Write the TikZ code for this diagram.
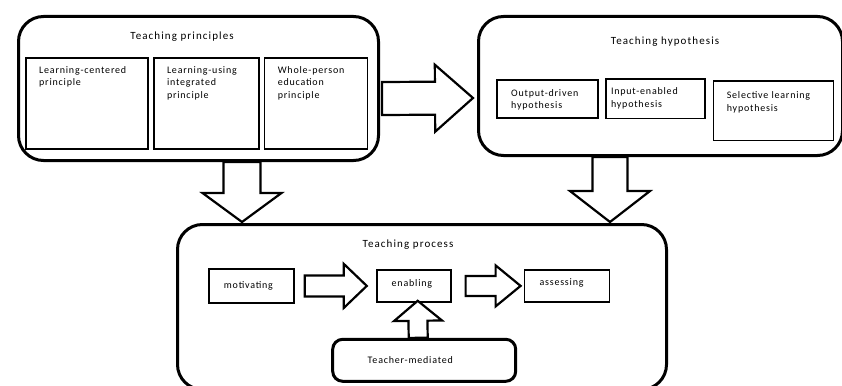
\documentclass[tikz,border=0pt]{standalone}
\usepackage{fontspec}
\setmainfont{Carlito}
\newfontfamily\boxfont[LetterSpace=8]{Carlito}
\newfontfamily\headfont[LetterSpace=10]{Carlito}
\usetikzlibrary{positioning,calc}
\tikzset{
  outer/.style={draw, line width=3pt, rounded corners=25pt, anchor=north west, inner sep=0pt},
  inbox/.style={draw, line width=1.8pt, inner sep=0pt, anchor=north west},
  head/.style={font=\headfont\fontsize{11}{13}\selectfont, inner sep=0pt},
  tag/.style={font=\boxfont\fontsize{10}{12.5}\selectfont, align=left, anchor=north west, inner sep=0pt},
  stepbox/.style={draw, line width=1.8pt, font=\boxfont\fontsize{10}{12.5}\selectfont, align=left,
    inner xsep=15pt, inner ysep=0pt, text width=#1},
  fat/.style n args={3}{fill=white, line width=2.2pt, line join=miter,
    to path={let \p1=(\tikztostart), \p2=(\tikztotarget), \p3=($(\p2)!#3pt!(\p1)$) in
      ($(\p1)!#1pt!90:(\p2)$) -- ($(\p3)!#1pt!-90:(\p1)$) -- ($(\p3)!#2pt!-90:(\p1)$) -- (\p2)
      -- ($(\p3)!#2pt!90:(\p1)$) -- ($(\p3)!#1pt!90:(\p1)$) -- ($(\p1)!#1pt!-90:(\p2)$) -- cycle}}
}
\begin{document}
\begin{tikzpicture}[x=1pt, y=1pt]
  \useasboundingbox (0,0) rectangle (842,-385);
  \node (pr) [outer, minimum width=360, minimum height=144] at (17,-15) {};
  \node (hy) [outer, minimum width=364, minimum height=139] at (477,-15) {};
  \node (pc) [outer, minimum width=489, minimum height=165] at (176,-223) {};
  \node (pr-t) [head] at (182,-36.5) {Teaching principles};
  \node (hy-t) [head] at (665,-41.5) {Teaching hypothesis};
  \node (pc-t) [head] at (408,-244.5) {Teaching process};

  \node (lc) [inbox, minimum width=122, minimum height=91] at (25,-57) {};
  \node (lu) [inbox, minimum width=105, minimum height=91, right=4pt of lc] {};
  \node (wp) [inbox, minimum width=103, minimum height=91, right=4pt of lu] {};
  \node (lc-t) [tag] at ($(lc.north west)+(14,-9)$) {Learning-centered\\principle};
  \node (lu-t) [tag] at ($(lu.north west)+(14,-9)$) {Learning-using\\integrated\\principle};
  \node (wp-t) [tag] at ($(wp.north west)+(14,-9)$) {Whole-person\\education\\principle};

  \node (od) [inbox, minimum width=101, minimum height=38] at (496,-79) {};
  \node (ie) [inbox, minimum width=99, minimum height=39, right=6pt of od] {};
  \node (sl) [inbox, minimum width=120, minimum height=59, right=7pt of ie.north east, anchor=north west, yshift=-2pt] {};
  \node (od-t) [tag] at ($(od.north west)+(15,-10)$) {Output-driven\\hypothesis};
  \node (ie-t) [tag] at ($(ie.north west)+(6,-9)$) {Input-enabled\\hypothesis};
  \node (sl-t) [tag] at ($(sl.north west)+(14,-11)$) {Selective learning\\hypothesis};

  \node (mot) [stepbox=55pt, minimum height=34, anchor=north west] at (208,-268) {motivating};
  \node (ena) [stepbox=44pt, minimum height=32, text depth=5pt, right=81pt of mot] {enabling};
  \node (ass) [stepbox=55pt, minimum height=32, text depth=7pt, right=72pt of ena] {assessing};
  \node (tm) [stepbox=113pt, line width=3pt, rounded corners=10pt, inner xsep=35pt, minimum height=42,
    below=35pt of ena, xshift=10.5pt] {Teacher-mediated};

  \draw[fat={18.5}{39.5}{29}] ($(pr.south west)+(225,0)$) to ($(pc.north west)+(66,1)$);
  \draw[fat={17.5}{40}{31}] ($(hy.south west)+(133,0)$) to ($(pc.north west)+(434,1)$);
  \draw[fat={16.5}{33.5}{38}] ($(pr.east)+(2,-10)$) to ($(hy.west)+(-4,-12)$);
  \draw[fat={10.5}{22}{23}] ($(mot.east)+(10,0)$) to ($(ena.west)+(-9,0)$);
  \draw[fat={10}{20.5}{25}] ($(ena.east)+(14,0)$) to ($(ass.west)+(-3,0)$);
  \draw[fat={9.5}{24}{20}] ($(tm.north)+(-6,0)$) to ($(ena.south)+(4,2)$);
\end{tikzpicture}
\end{document}
